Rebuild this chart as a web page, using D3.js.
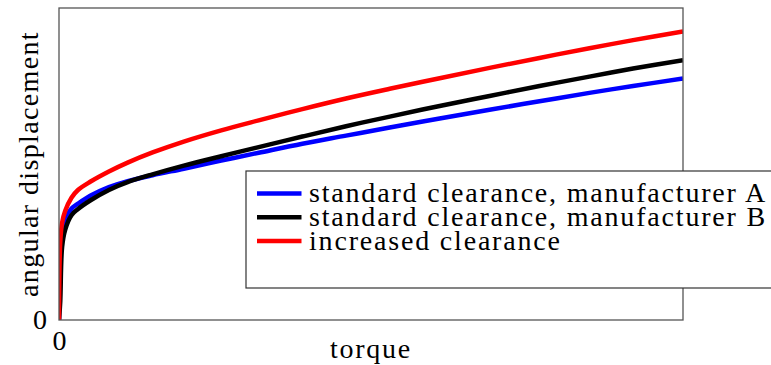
<!DOCTYPE html>
<html>
<head>
<meta charset="utf-8">
<script src="https://cdn.jsdelivr.net/npm/d3@7"></script>
<style>
  html, body { margin: 0; padding: 0; background: #fff; }
  svg { display: block; }
  text { font-family: "Liberation Serif", "Times New Roman", serif; fill: #000; }
</style>
</head>
<body>
<svg id="chart" width="771" height="365"></svg>
<script>
// Torque (normalised, % of full range) at which each curve is sampled
const torque = [0, 0.2, 0.5, 1, 2, 3, 5, 8, 11, 15, 20, 26, 32, 39, 46, 53, 61, 69, 77, 85, 92, 100];

// Angular displacement (normalised, % of full range) for each bearing variant
const standardA = [0, 20, 29.2, 32.5, 35.7, 37.2, 39.8, 42.6, 44.5, 46.4, 48.5, 51.1, 53.6, 56.5, 59.1, 61.7, 64.6, 67.4, 70.1, 72.8, 75.0, 77.4];
const standardB = [0, 6, 23.5, 29, 33.6, 35.5, 38.3, 41.7, 44.2, 46.7, 49.5, 52.5, 55.4, 58.8, 62.1, 65.2, 68.6, 71.8, 75.0, 78.0, 80.6, 83.3];
const increased = [0, 25, 31.2, 35, 39.2, 41.6, 44.3, 47.6, 50.45, 53.7, 57.2, 60.8, 64.0, 67.6, 71.0, 74.1, 77.5, 80.8, 84.0, 87.1, 89.7, 92.5];

const seriesNames = ["standard clearance, manufacturer A", "standard clearance, manufacturer B", "increased clearance"];
const seriesColors = ["#0000ff", "#000000", "#ff0000"];
const xTickValues = [0];
const yTickValues = [0];
const xLabel = "torque";
const yLabel = "angular displacement";

const series = [standardA, standardB, increased].map((vals, i) => ({
  name: seriesNames[i],
  color: seriesColors[i],
  points: torque.map((t, j) => [t, vals[j]])
}));

const margin = { left: 59, top: 8 };
const plotW = 624, plotH = 312;
const baseFont = 28;

// Set a text's size/tracking so that it spans the wanted width
function fitText(node, width) {
  const sel = d3.select(node);
  sel.style("font-size", baseFont + "px").style("letter-spacing", "0px");
  const w = node.getComputedTextLength();
  const n = node.textContent.length;
  if (w > width) {
    sel.style("font-size", (baseFont * width / w) + "px");
  } else {
    sel.style("letter-spacing", ((width - w) / n) + "px");
  }
}

const svg = d3.select("#chart");
const g = svg.append("g").attr("transform", `translate(${margin.left},${margin.top})`);

const x = d3.scaleLinear().domain([0, 100]).range([0, plotW]);
const y = d3.scaleLinear().domain([0, 100]).range([plotH, 0]);

// Curves (blue underneath, red on top)
const line = d3.line()
  .x(d => x(d[0]))
  .y(d => y(d[1]))
  .curve(d3.curveCatmullRom.alpha(0.5));

g.append("defs").append("clipPath").attr("id", "plotClip")
  .append("rect").attr("x", 0).attr("y", -5).attr("width", plotW).attr("height", plotH + 5);

g.append("g").attr("clip-path", "url(#plotClip)")
  .selectAll("path")
  .data(series)
  .join("path")
  .attr("d", d => line(d.points))
  .attr("fill", "none")
  .attr("stroke", d => d.color)
  .attr("stroke-width", 4.5)
  .attr("stroke-linejoin", "round");

// Plot frame
g.append("rect")
  .attr("x", 0).attr("y", 0)
  .attr("width", plotW).attr("height", plotH)
  .attr("fill", "none")
  .attr("stroke", "#555")
  .attr("stroke-width", 1.3);

// Axes: only the origin is labelled
const xAxis = g.append("g")
  .attr("transform", `translate(0,${plotH})`)
  .call(d3.axisBottom(x).tickValues(xTickValues).tickFormat(d3.format("d")).tickSize(0).tickPadding(10.6));
const yAxis = g.append("g")
  .call(d3.axisLeft(y).tickValues(yTickValues).tickFormat(d3.format("d")).tickSize(0).tickPadding(12));
[xAxis, yAxis].forEach(a => {
  a.attr("font-family", null);
  a.select(".domain").remove();
  a.selectAll("text")
    .attr("fill", "#000")
    .style("font-size", baseFont + "px");
});

// Axis titles
svg.append("text")
  .attr("x", margin.left + plotW / 2)
  .attr("y", 358.3)
  .attr("text-anchor", "middle")
  .text(xLabel)
  .each(function () { fitText(this, 82); });

svg.append("text")
  .attr("transform", `translate(38,${margin.top + plotH / 2}) rotate(-90)`)
  .attr("text-anchor", "middle")
  .text(yLabel)
  .each(function () { fitText(this, 266); });

// Legend
const legend = svg.append("g").attr("transform", "translate(246,171)");
legend.append("rect")
  .attr("x", 0).attr("y", 0)
  .attr("width", 560).attr("height", 117)
  .attr("fill", "#fff")
  .attr("stroke", "#333")
  .attr("stroke-width", 1.2);

const rows = legend.selectAll("g.row")
  .data(series)
  .join("g")
  .attr("class", "row")
  .attr("transform", (d, i) => `translate(0,${22.5 + i * 23.7})`);

rows.append("line")
  .attr("x1", 11).attr("x2", 55.5)
  .attr("y1", 0).attr("y2", 0)
  .attr("stroke", d => d.color)
  .attr("stroke-width", 4.5);

const legendTexts = rows.append("text")
  .attr("x", 63)
  .attr("y", 8.6)
  .text(d => d.name);

// Size the legend from its longest entry, then use the same tracking for all rows
const longest = legendTexts.nodes()[0];
fitText(longest, 458);
const fs = d3.select(longest).style("font-size");
const ls = d3.select(longest).style("letter-spacing");
legendTexts.style("font-size", fs).style("letter-spacing", ls);
</script>
</body>
</html>
